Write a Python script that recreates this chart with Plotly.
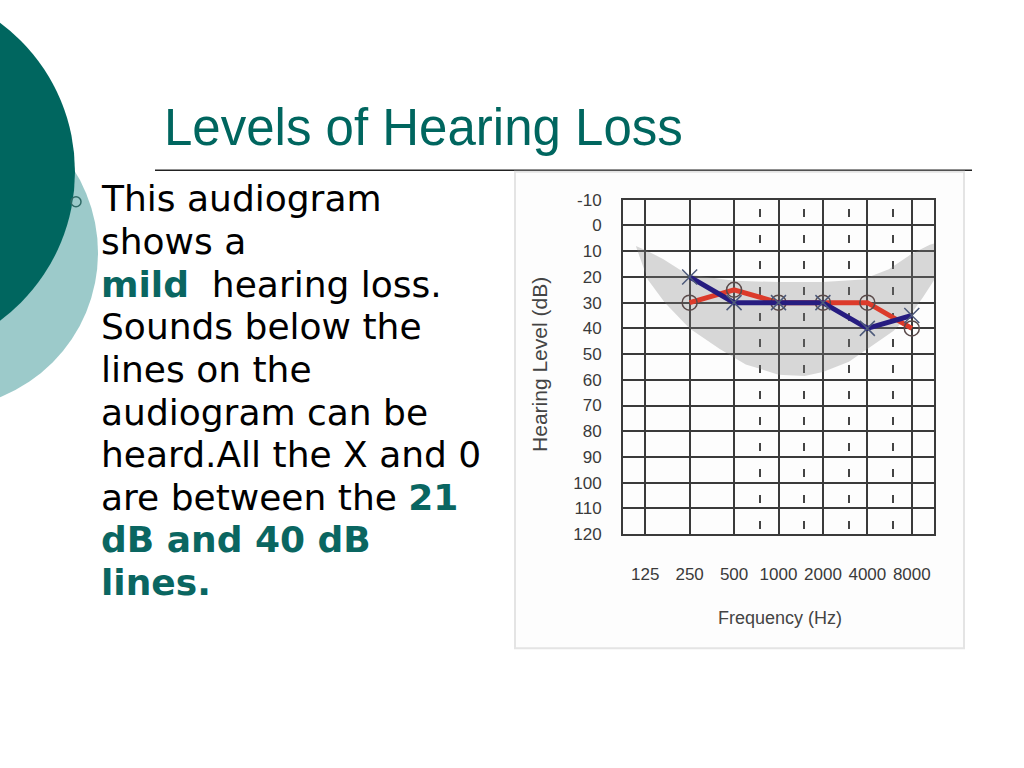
import math
import plotly.graph_objects as go

# ---------------- data ----------------
freq_ticks = [125, 250, 500, 1000, 2000, 4000, 8000]
freq_labels = ["125", "250", "500", "1000", "2000", "4000", "8000"]
half_octave_freqs = [750, 1500, 3000, 6000]
db_ticks = [-10, 0, 10, 20, 30, 40, 50, 60, 70, 80, 90, 100, 110, 120]
db_labels = [str(v) for v in db_ticks]

test_freqs = [250, 500, 1000, 2000, 4000, 8000]
right_ear_db = [30, 25, 30, 30, 30, 40]   # red O
left_ear_db = [20, 30, 30, 30, 40, 35]    # blue X

# speech "banana" outline (upper edge left->right, lower edge right->left)
banana_upper_hz = [108, 125, 165, 240, 500, 1000, 2000, 3700, 5600, 8000, 10600, 11400]
banana_upper_db = [8, 9.5, 13, 19, 21.5, 22, 22, 21, 17, 11, 7.5, 7]
banana_lower_hz = [11400, 9500, 8000, 6000, 4000, 3000, 2000, 1500, 1000, 600, 400, 250, 170, 130, 108]
banana_lower_db = [21, 28, 34, 41, 48, 53, 57, 58.5, 58, 54, 48, 40, 30, 21, 8]

title_text = "Levels of Hearing Loss"
teal = "#0a6661"
body_lines = [
    "This audiogram",
    "shows a",
    '<b><span style="color:%s">mild</span></b>\u00a0 hearing loss.' % teal,
    "Sounds below the",
    "lines on the",
    "audiogram can be",
    "heard.All the X and 0",
    'are between the <b><span style="color:%s">21</span></b>' % teal,
    '<b><span style="color:%s">dB and 40 dB</span></b>' % teal,
    '<b><span style="color:%s">lines.</span></b>' % teal,
]

# ---------------- layout helpers ----------------
W, H = 1024, 768
Y_OFF, Y_SCALE = 9.5, 0.974   # compensation for the capture's vertical mapping
def px(x):
    return x / W
def py(y):
    return 1 - ((y - Y_OFF) / Y_SCALE) / H

plot_l, plot_r, plot_t, plot_b = 623, 934, 200, 534
label_font = dict(family="Liberation Sans, Arial", size=17, color="#3a3a3a")

fig = go.Figure()

# speech banana
fig.add_trace(go.Scatter(
    x=banana_upper_hz + banana_lower_hz,
    y=banana_upper_db + banana_lower_db,
    fill="toself", fillcolor="rgba(128,128,128,0.30)",
    line=dict(width=0), mode="lines", hoverinfo="skip", showlegend=False,
))

# right ear (red, O)
fig.add_trace(go.Scatter(
    x=test_freqs, y=right_ear_db, mode="lines+markers",
    line=dict(color="#dc3b2b", width=5),
    marker=dict(symbol="circle-open", size=15, color="#5a4a4a", line=dict(width=1.5, color="#5a4a4a")),
    showlegend=False,
))
# left ear (blue, X)
fig.add_trace(go.Scatter(
    x=test_freqs, y=left_ear_db, mode="lines+markers",
    line=dict(color="#261c80", width=5),
    marker=dict(symbol="x-thin-open", size=15, color="#4d5a7a", line=dict(width=1.5, color="#4d5a7a")),
    showlegend=False,
))

lo = math.log10(freq_ticks[0] / math.sqrt(2))
hi = math.log10(freq_ticks[-1] * math.sqrt(2))

fig.update_xaxes(
    type="log", range=[lo, hi], domain=[px(plot_l), px(plot_r)],
    tickmode="array", tickvals=freq_ticks, ticktext=freq_labels, tickangle=0,
    showgrid=True, gridcolor="#3a3a3a", gridwidth=2,
    showline=True, mirror=True, linecolor="#3a3a3a", linewidth=2,
    ticks="", tickfont=label_font, ticklabelstandoff=23,
    minor=dict(tickmode="array", tickvals=half_octave_freqs, showgrid=True,
               gridcolor="#444444", gridwidth=1.5, griddash="0px,9px,8px,9px", ticks=""),
    fixedrange=True,
)
fig.update_yaxes(
    range=[db_ticks[-1], db_ticks[0]], domain=[py(plot_b), py(plot_t)],
    tickmode="array", tickvals=db_ticks, ticktext=db_labels,
    showgrid=True, gridcolor="#3a3a3a", gridwidth=2, zeroline=False,
    showline=True, mirror=True, linecolor="#3a3a3a", linewidth=2,
    ticks="", tickfont=label_font, ticklabelstandoff=16,
    fixedrange=True,
)

shapes = [
    # light teal circle
    dict(type="circle", xref="paper", yref="paper", x0=px(-212), x1=px(98), y0=py(408), y1=py(98),
         fillcolor="#9ccaca", line=dict(width=0), layer="below"),
    # dark teal circle
    dict(type="circle", xref="paper", yref="paper", x0=px(-295), x1=px(75), y0=py(357), y1=py(-13),
         fillcolor="#00665f", line=dict(width=0), layer="below"),
    # bullet
    dict(type="circle", xref="paper", yref="paper", x0=px(71), x1=px(81), y0=py(207), y1=py(197),
         fillcolor="rgba(0,0,0,0)", line=dict(width=1.5, color="#2f6a66"), layer="above"),
    # title rule
    dict(type="line", xref="paper", yref="paper", x0=px(155), x1=px(972), y0=py(170.5), y1=py(170.5),
         line=dict(width=1.5, color="#222222"), layer="below"),
    # chart panel
    dict(type="rect", xref="paper", yref="paper", x0=px(515), x1=px(964), y0=py(648), y1=py(172),
         fillcolor="#fdfdfd", line=dict(width=2, color="#e4e4e4"), layer="below"),
]

annotations = [
    dict(text=title_text, x=px(162), y=py(128), xref="paper", yref="paper",
         xanchor="left", yanchor="middle", showarrow=False,
         font=dict(family="Liberation Sans, Arial", size=51, color="#00665f")),
    dict(text="Hearing Level (dB)", x=px(540), y=py(365), xref="paper", yref="paper",
         xanchor="center", yanchor="middle", textangle=-90, showarrow=False,
         font=dict(family="Liberation Sans, Arial", size=21, color="#444444")),
    dict(text="Frequency (Hz)", x=px(780), y=py(618), xref="paper", yref="paper",
         xanchor="center", yanchor="middle", showarrow=False,
         font=dict(family="Liberation Sans, Arial", size=18, color="#444444")),
]
baseline0, spacing = 211, 42.6
for i, line in enumerate(body_lines):
    center = baseline0 + i * spacing - 12
    annotations.append(dict(
        text=line, x=px(99), y=py(center), xref="paper", yref="paper",
        xanchor="left", yanchor="middle", showarrow=False,
        font=dict(family="DejaVu Sans, Verdana", size=36, color="#000000"),
    ))

fig.update_layout(
    width=W, height=H, margin=dict(l=0, r=0, t=0, b=0),
    paper_bgcolor="white", plot_bgcolor="white",
    shapes=shapes, annotations=annotations, showlegend=False,
)

fig.write_html(
    "out.html",
    config={"displayModeBar": False},
    post_script="document.body.style.margin='0';document.body.style.overflow='hidden';",
)
